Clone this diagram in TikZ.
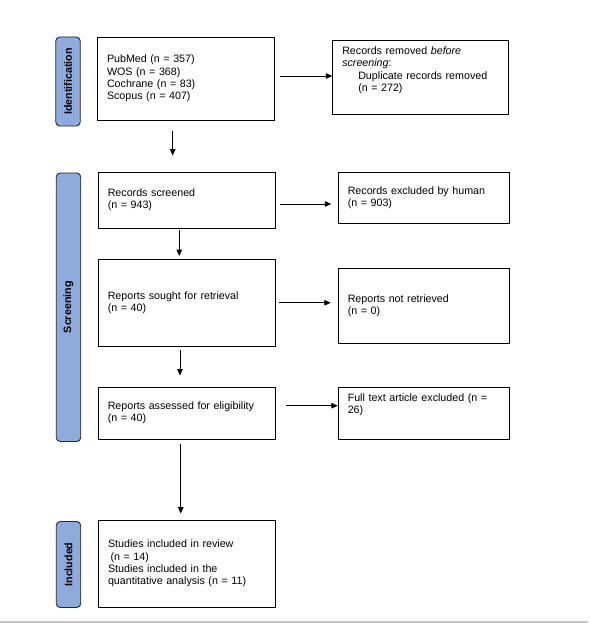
\documentclass[tikz,border=0pt]{standalone}
\usepackage{fontspec}
\setmainfont{Liberation Sans}
\usetikzlibrary{arrows.meta}

\begin{document}
\begin{tikzpicture}[x=1pt,y=-1pt,
    box/.style={draw,line width=0.9pt,align=left,inner xsep=9.5pt,text width=158pt,
        font=\fontsize{10.7}{12.3}\selectfont},
    side/.style={box,text width=152.5pt},
    phase/.style={draw=black!85,line width=0.9pt,fill={rgb,255:red,143;green,170;blue,220},
        rounded corners=4pt,rotate=90,minimum height=24.5pt,inner sep=0pt,
        font=\fontsize{10.7}{12.3}\selectfont\bfseries},
    arr/.style={-{Triangle[length=6.5pt,width=5.5pt]},line width=0.9pt}]
    \useasboundingbox (0,0) rectangle (589,623);
    \node[phase,minimum width=89pt] (idph) at (68,81.5) {Identification};
    \node[phase,minimum width=268.5pt] (scph) at (68.5,307.25) {Screening};
    \node[phase,minimum width=86pt] (inph) at (68.5,564.5) {Included};
    \node[box,minimum height=83pt] (search) at (186,78.5)
        {PubMed (n = 357)\\WOS (n = 368)\\Cochrane (n = 83)\\Scopus (n = 407)};
    \node[box,text width=157pt,minimum height=74pt] (removed) at (420.75,77)
        {Records removed \textit{before}\\\textit{screening}:\\\hspace*{16pt}Duplicate records removed\\\hspace*{16pt}(n = 272)\rule[-16pt]{0pt}{0pt}};
    \node[box,minimum height=56pt] (screened) at (186.75,200) {Records screened\\(n = 943)};
    \node[side,minimum height=51pt] (excluded) at (424,197.5) {Records excluded by human\\(n = 903)};
    \node[box,minimum height=86.5pt] (sought) at (186.75,302.75) {Reports sought for retrieval\\(n = 40)};
    \node[side,minimum height=74.5pt] (notretr) at (424,305.75) {Reports not retrieved\\(n = 0)};
    \node[box,minimum height=52pt] (assessed) at (186.75,413) {Reports assessed for eligibility\\(n = 40)};
    \node[side,minimum height=52pt] (fulltext) at (424,413)
        {Full text article excluded (n =\\26)\rule[-18.5pt]{0pt}{0pt}};
    \node[box,minimum height=87pt] (included) at (187,563.5)
        {Studies included in review\\\hspace*{2.5pt}(n = 14)\\Studies included in the\\quantitative analysis (n = 11)};
    \draw[arr,shorten <=5pt] ([yshift=2.5pt]search.east) -- ([yshift=2.5pt]search.east -| removed.west);
    \draw[arr,shorten <=4.5pt,shorten >=6.5pt] ([yshift=-4pt]screened.east) -- ([yshift=-4pt]screened.east -| excluded.west);
    \draw[arr,shorten <=3.5pt,shorten >=7pt] (sought.east) -- (sought.east -| notretr.west);
    \draw[arr,shorten <=10.5pt] ([yshift=7.3pt]assessed.east) -- ([yshift=7.3pt]assessed.east -| fulltext.west);
    \draw[arr,shorten <=11pt,shorten >=16pt] ([xshift=-13.3pt]search.south) -- ([xshift=-13.3pt]search.south |- screened.north);
    \draw[arr,shorten <=2pt,shorten >=3pt] ([xshift=-7.5pt]screened.south) -- ([xshift=-7.5pt]screened.south |- sought.north);
    \draw[arr,shorten <=4pt,shorten >=11pt] ([xshift=-6.75pt]sought.south) -- ([xshift=-6.75pt]sought.south |- assessed.north);
    \draw[arr,shorten <=5pt,shorten >=6pt] ([xshift=-6pt]assessed.south) -- ([xshift=-6pt]assessed.south |- included.north);
    \draw[gray!45,line width=1.5pt] (0,622) -- (588,622);
\end{tikzpicture}
\end{document}
